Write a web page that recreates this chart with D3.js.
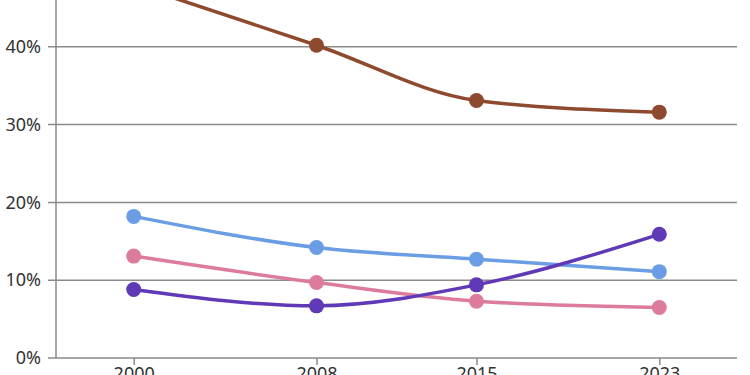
<!DOCTYPE html>
<html>
<head>
<meta charset="utf-8">
<script src="https://cdn.jsdelivr.net/npm/d3@7"></script>
<style>
  body { margin: 0; background: #fff; }
  svg { display: block; }
</style>
</head>
<body>
<div class="center"></div>
<script>
// data
const years = [2000, 2008, 2015, 2023];
const brown  = [48.0, 40.2, 33.1, 31.6];
const blue   = [18.2, 14.2, 12.7, 11.1];
const pink   = [13.1, 9.7, 7.3, 6.5];
const purple = [8.8, 6.7, 9.4, 15.9];
const yTicks = [0, 10, 20, 30, 40];

const series = [
  {values: brown,  color: "#8e4a2f"},
  {values: blue,   color: "#6a9de3"},
  {values: pink,   color: "#dc7b9b"},
  {values: purple, color: "#6039b7"}
];

const W = 750, H = 375;
const margin = {top: 0, right: 13, bottom: 17, left: 56};
const width = W - margin.left - margin.right;
const height = H - margin.top - margin.bottom;

const xScale = d3.scaleLinear()
                 .domain([1996.6, 2026.4])
                 .range([0, width]);
const yScale = d3.scaleLinear()
                 .domain([0, 46])
                 .range([height, height - 46 * 7.78]);

const svg = d3.select(".center").append("svg")
              .attr("width", W)
              .attr("height", H)
              .append("g")
              .attr("transform", `translate(${margin.left},${margin.top})`);

// gridlines
svg.append("g")
   .selectAll("line")
   .data(yTicks)
   .enter().append("line")
   .attr("x1", -8)
   .attr("x2", width)
   .attr("y1", d => yScale(d))
   .attr("y2", d => yScale(d))
   .attr("stroke", "#8a8a8a")
   .attr("stroke-width", 1.5);

// y axis
const yAxis = d3.axisLeft(yScale)
                .tickValues(yTicks)
                .tickSize(0)
                .tickPadding(15)
                .tickFormat(d => d + "%");
svg.append("g")
   .call(yAxis)
   .call(g => g.select(".domain").remove())
   .selectAll("text")
   .style("font-family", "'Noto Sans', sans-serif")
   .style("font-size", "18px")
   .style("fill", "#333");

svg.append("line")
   .attr("x1", 0).attr("x2", 0)
   .attr("y1", 0).attr("y2", height)
   .attr("stroke", "#8a8a8a")
   .attr("stroke-width", 1.5);

// x axis
const xAxis = d3.axisBottom(xScale)
                .tickValues(years)
                .tickSize(7)
                .tickPadding(2)
                .tickFormat(d3.format("d"));
svg.append("g")
   .attr("transform", `translate(0,${height})`)
   .call(xAxis)
   .call(g => g.select(".domain").remove())
   .call(g => g.selectAll("line").attr("stroke", "#8a8a8a").attr("stroke-width", 1.5))
   .selectAll("text")
   .style("font-family", "'Noto Sans', sans-serif")
   .style("font-size", "18px")
   .style("fill", "#333");

// lines
const line = d3.line()
               .x((d, i) => xScale(years[i]))
               .y(d => yScale(d))
               .curve(d3.curveMonotoneX);

series.forEach(s => {
  svg.append("path")
     .datum(s.values)
     .attr("d", line)
     .attr("fill", "none")
     .attr("stroke", s.color)
     .attr("stroke-width", 3.5);

  svg.selectAll(null)
     .data(s.values)
     .enter().append("circle")
     .attr("cx", (d, i) => xScale(years[i]))
     .attr("cy", d => yScale(d))
     .attr("r", 7.5)
     .style("fill", s.color);
});
</script>
</body>
</html>
